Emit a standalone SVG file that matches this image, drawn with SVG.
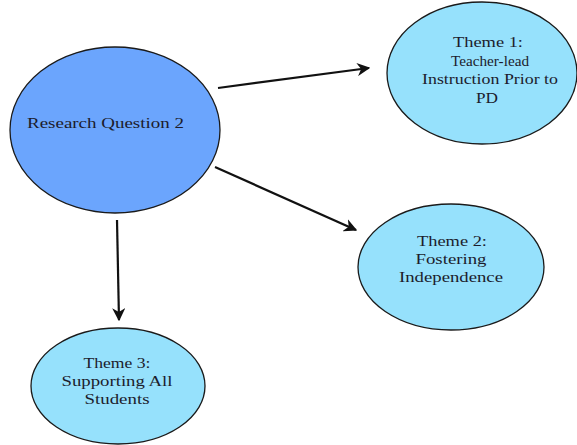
<svg xmlns="http://www.w3.org/2000/svg" width="577" height="445" viewBox="0 0 577 445">
<defs>
<style>
.main{fill:#6ba5fd;stroke:#1a1a1a;stroke-width:1.3}
.theme{fill:#96e1fc;stroke:#1a1a1a;stroke-width:1.3}
text{font-family:"Liberation Serif","Times New Roman",serif;font-size:15px;fill:#1c1c2c;text-anchor:middle}
.conn line{stroke:#111;stroke-width:2.2;marker-end:url(#ah)}
</style>
<marker id="ah" viewBox="0 0 10 10" refX="9" refY="5" markerWidth="6" markerHeight="6" orient="auto" markerUnits="strokeWidth">
<path d="M0,0 L10,5 L0,10 L3,5 Z" fill="#111"/>
</marker>
</defs>
<rect width="577" height="445" fill="#fff"/>
<g id="rq2">
<ellipse class="main" cx="115" cy="130" rx="105" ry="83"/>
<text x="105.5" y="128" textLength="157" lengthAdjust="spacingAndGlyphs">Research Question 2</text>
</g>
<g id="theme1">
<ellipse class="theme" cx="482" cy="73" rx="95" ry="71"/>
<text x="488" y="47" textLength="70" lengthAdjust="spacingAndGlyphs">Theme 1:</text>
<text x="490" y="65.5" textLength="78" lengthAdjust="spacingAndGlyphs">Teacher-lead</text>
<text x="490" y="84" textLength="136" lengthAdjust="spacingAndGlyphs">Instruction Prior to</text>
<text x="487" y="102.5" textLength="22" lengthAdjust="spacingAndGlyphs">PD</text>
</g>
<g id="theme2">
<ellipse class="theme" cx="451" cy="267" rx="93" ry="63"/>
<text x="452" y="246" textLength="70" lengthAdjust="spacingAndGlyphs">Theme 2:</text>
<text x="451" y="264" textLength="71" lengthAdjust="spacingAndGlyphs">Fostering</text>
<text x="451" y="282" textLength="104" lengthAdjust="spacingAndGlyphs">Independence</text>
</g>
<g id="theme3">
<ellipse class="theme" cx="118" cy="386" rx="87" ry="58"/>
<text x="117" y="368" textLength="67" lengthAdjust="spacingAndGlyphs">Theme 3:</text>
<text x="117" y="386" textLength="111" lengthAdjust="spacingAndGlyphs">Supporting All</text>
<text x="117" y="404" textLength="65" lengthAdjust="spacingAndGlyphs">Students</text>
</g>
<g id="connectors" class="conn">
<line x1="218" y1="88" x2="369" y2="68"/>
<line x1="215" y1="167" x2="356" y2="230"/>
<line x1="117" y1="220" x2="119" y2="320"/>
</g>
</svg>
